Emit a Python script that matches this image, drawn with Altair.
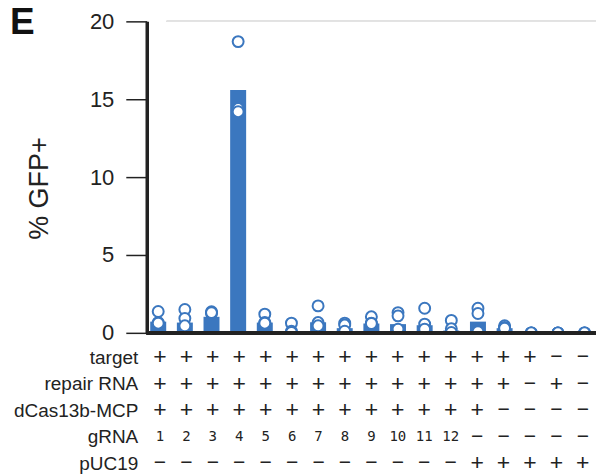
import altair as alt
import pandas as pd

# ---------------- data ----------------
conditions = list(range(1, 18))
bar_values = [0.72, 0.66, 1.03, 15.6, 0.66, 0.05, 0.68, 0.3, 0.6, 0.56,
              0.49, 0.15, 0.72, 0.3, 0.02, 0.01, 0.01]
rep1 = [1.37, 1.5, 1.35, 18.7, 1.2, 0.62, 1.73, 0.62, 1.03, 1.3,
        1.58, 0.8, 1.58, 0.45, 0.0, 0.0, 0.0]
rep2 = [0.66, 0.93, 1.25, 14.4, 0.66, 0.1, 0.66, 0.5, 0.62, 1.09,
        0.56, 0.26, 1.24, 0.35, 0.0, 0.0, 0.0]
rep3 = [0.62, 0.45, 1.3, 14.2, 0.62, 0.02, 0.45, 0.1, 0.6, 0.24,
        0.24, 0.02, 0.08, 0.3, 0.0, 0.0, 0.0]

row_names = ["target", "repair RNA", "dCas13b-MCP", "gRNA", "pUC19"]
target = ["+"] * 15 + ["\u2212"] * 2
repair_rna = ["+"] * 14 + ["\u2212", "+", "\u2212"]
dcas13b = ["+"] * 13 + ["\u2212"] * 4
grna = [str(i) for i in range(1, 13)] + ["\u2212"] * 5
puc19 = ["\u2212"] * 12 + ["+"] * 5
y_ticks = [0, 5, 10, 15, 20]
panel_letter = ["E"]

BLUE = "#3b77bf"
INK = "#222222"
FONT = "Liberation Sans"

bars = pd.DataFrame({"cond": conditions, "value": bar_values})
pts = pd.DataFrame({
    "cond": conditions * 3,
    "value": rep1 + rep2 + rep3,
})
rows = []
for name, symbols in zip(row_names, [target, repair_rna, dcas13b, grna, puc19]):
    for c, s in zip(conditions, symbols):
        if s == "+":
            kind = "plus"
        elif s == "\u2212":
            kind = "minus"
        else:
            kind = "num"
        rows.append({"cond": c, "row": name, "sym": s, "kind": kind})
table = pd.DataFrame(rows)
letter = pd.DataFrame({"label": panel_letter})

W = 450
H = 312
xscale = alt.Scale(domain=conditions, paddingInner=0.4, paddingOuter=0.13)

bar_layer = alt.Chart(bars).mark_bar(color=BLUE).encode(
    x=alt.X("cond:O", scale=xscale, axis=None),
    y=alt.Y("value:Q",
            scale=alt.Scale(domain=[0, 20], nice=False),
            axis=alt.Axis(values=y_ticks, title="% GFP+", grid=False,
                          tickSize=21, tickWidth=1.5, tickColor=INK,
                          domainColor=INK, domainWidth=3.5,
                          labelFontSize=22, labelFont=FONT, labelColor=INK,
                          labelPadding=12, titleFont=FONT, titleFontSize=27,
                          titleFontWeight="normal", titleColor=INK,
                          titlePadding=36, titleY=167)),
)

pt_layer = alt.Chart(pts).mark_point(
    shape="circle", size=120, fill="white", fillOpacity=1, stroke=BLUE,
    strokeWidth=2, opacity=1, clip=True
).encode(
    x=alt.X("cond:O", scale=xscale, axis=None),
    y=alt.Y("value:Q"),
)

baseline = alt.Chart(bars).mark_rule(color=INK, strokeWidth=3.5).encode(
    y=alt.datum(0), x=alt.value(0), x2=alt.value(W)
)

topline = alt.Chart(bars).mark_rule(color="#e3e3e3", strokeWidth=1).encode(
    y=alt.datum(20), x=alt.value(20), x2=alt.value(W)
)

letter_layer = alt.Chart(letter).mark_text(
    font=FONT, fontSize=37, fontWeight="bold", color="#111111",
    align="left", baseline="alphabetic"
).encode(
    x=alt.value(-137), y=alt.value(13), text="label:N"
)

top = alt.layer(topline, bar_layer, pt_layer, baseline, letter_layer).properties(
    width=W, height=H
)

row_axis = alt.Axis(title=None, domain=False, ticks=False, labelFont=FONT,
                    labelFontSize=19, labelColor=INK, labelPadding=9)

plus_layer = alt.Chart(table).transform_filter(
    alt.datum.kind == "plus"
).mark_text(font=FONT, fontSize=23, color=INK).encode(
    x=alt.X("cond:O", scale=xscale, axis=None),
    y=alt.Y("row:N", sort=row_names, axis=row_axis),
    text="sym:N",
)
minus_layer = alt.Chart(table).transform_filter(
    alt.datum.kind == "minus"
).mark_text(font=FONT, fontSize=21, color=INK).encode(
    x=alt.X("cond:O", scale=xscale, axis=None),
    y=alt.Y("row:N", sort=row_names, axis=row_axis),
    text="sym:N",
)
num_layer = alt.Chart(table).transform_filter(
    alt.datum.kind == "num"
).mark_text(font="DejaVu Sans Mono", fontSize=14, color=INK).encode(
    x=alt.X("cond:O", scale=xscale, axis=None),
    y=alt.Y("row:N", sort=row_names, axis=row_axis),
    text="sym:N",
)

bottom = alt.layer(plus_layer, minus_layer, num_layer).properties(
    width=W, height=133
)

chart = alt.vconcat(top, bottom, spacing=0).properties(
    padding={"left": 10, "top": 4, "right": 0, "bottom": 0},
).configure_view(stroke=None)

chart.save("out.html", embed_options={"renderer": "svg", "actions": False})
